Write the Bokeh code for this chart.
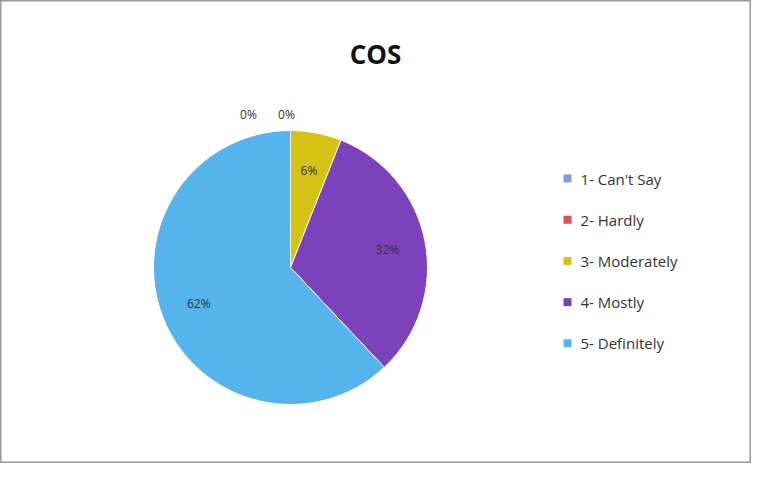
import math
from bokeh.plotting import figure
from bokeh.models import ColumnDataSource, Range1d
from bokeh.core.properties import value
from bokeh.embed import file_html
from bokeh.resources import INLINE

categories = ["1- Can't Say", "2- Hardly", "3- Moderately", "4- Mostly", "5- Definitely"]
percent = [0, 0, 6, 32, 62]
labels = ["0%", "0%", "6%", "32%", "62%"]
colors = ["#7f9fe0", "#e05050", "#d6c214", "#7c42bc", "#55b4ec"]

W, H = 751, 463
p = figure(width=W, height=H, output_backend="svg", toolbar_location=None,
           x_range=Range1d(0, W), y_range=Range1d(0, H), min_border=0)
p.axis.visible = False
p.grid.visible = False
p.outline_line_color = "#9a9a9a"
p.outline_line_width = 2
p.background_fill_color = "white"

cx, cy, r = 290, H - 267, 137
total = sum(percent)
starts, ends, lx, ly = [], [], [], []
cum = 0.0
for v in percent:
    a0 = math.pi / 2 - 2 * math.pi * (cum + v) / total
    a1 = math.pi / 2 - 2 * math.pi * cum / total
    mid = (a0 + a1) / 2
    starts.append(a0)
    ends.append(a1)
    if v == 0:
        lx.append(cx + r * 1.12 * math.cos(mid))
        ly.append(cy + r * 1.12 * math.sin(mid))
    else:
        lx.append(cx + r * 0.72 * math.cos(mid))
        ly.append(cy + r * 0.72 * math.sin(mid))
    cum += v

# offset the two zero labels side by side
xoff = []
zi = 0
for v in percent:
    if v == 0:
        xoff.append(-42 if zi == 0 else -4)
        zi += 1
    else:
        xoff.append(0)

src = ColumnDataSource(dict(cat=categories, start=starts, end=ends, color=colors,
                            lx=lx, ly=ly, lab=labels, xoff=xoff))
p.wedge(x=cx, y=cy, radius=r, start_angle="start", end_angle="end",
        fill_color="color", line_color="white", line_width=1, source=src)
p.text(x="lx", y="ly", text="lab", x_offset="xoff", source=src, text_align="center",
       text_baseline="middle", text_font=value("Open Sans"), text_font_size="12px",
       text_color="#333333")

# title
p.text(x=[375], y=[H - 53], text=["COS"], text_align="center", text_baseline="middle",
       text_font=value("Open Sans"), text_font_style="bold", text_font_size="26px",
       text_color="#111111")

# legend
n = len(categories)
legy = [H - 178 - i * 41.2 for i in range(n)]
legsx = [567] * n
legtx = [580] * n
p.scatter(x=legsx, y=legy, marker="square", size=8, fill_color=colors, line_color=None)
p.text(x=legtx, y=legy, text=categories, text_align="left", text_baseline="middle",
       text_font=value("Open Sans"), text_font_size="15px", text_color="#333333")

open("out.html", "w").write(file_html(p, INLINE))
